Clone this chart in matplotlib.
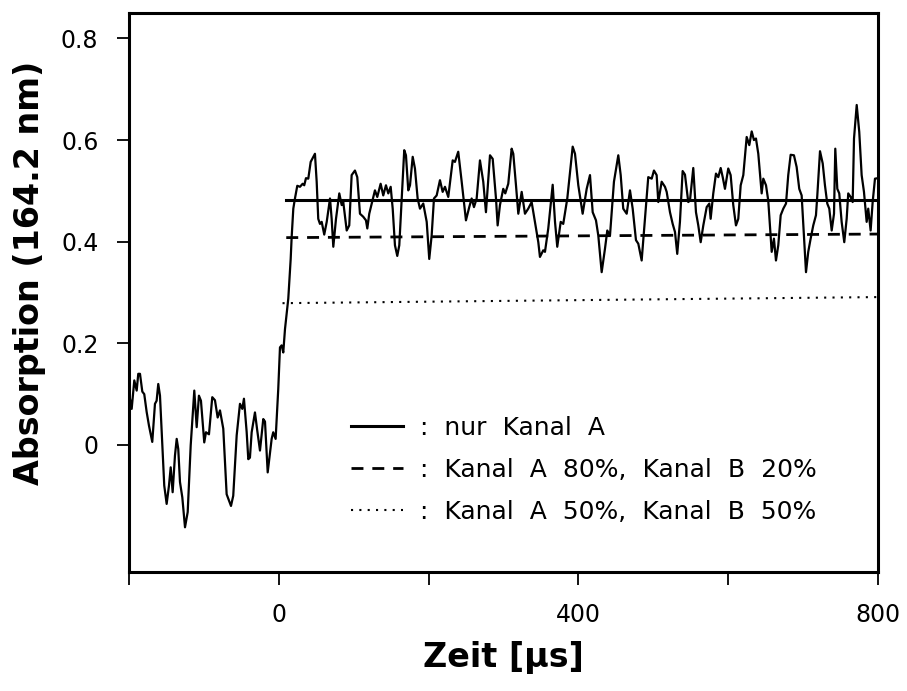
import matplotlib
matplotlib.use("Agg")
import matplotlib.pyplot as plt
from matplotlib.ticker import NullFormatter

plt.rcParams['font.family'] = ['DejaVu Sans']

# Messsignal vor dem Trigger (Zeit in µs, Absorption)
t_pre = [-199.5, -198.7, -196.4, -192.9, -189.7, -187.6, -185.3, -182.2, -179.6, -176.4,
         -173.3, -168.9, -165.3, -163.1, -160.9, -158.6, -155.5, -152.9, -149.7, -146.6,
         -144.3, -141.7, -138.6, -136.3, -134.2, -131.9, -128.8, -125.2, -121.6, -117.6,
         -112.8, -109.6, -106.6, -103.9, -99.5, -97.2, -93.2, -88.8, -85.2, -81.6,
         -78.5, -74.1, -69.6, -63.8, -60.8, -56.2, -51.8, -48.7, -46.5, -42.9,
         -40.7, -38.5, -36.2, -31.8, -28.7, -25.1, -20.7, -18.4, -14.8, -9.5,
         -7.4, -4.2, -0.7, 1.6, 3.8, 6.0, 8.3]
a_pre = [0.080, 0.091, 0.071, 0.127, 0.107, 0.140, 0.140, 0.105, 0.100, 0.065,
         0.038, 0.006, 0.081, 0.087, 0.120, 0.097, -0.001, -0.080, -0.116, -0.080,
         -0.044, -0.093, -0.021, 0.012, -0.008, -0.073, -0.103, -0.162, -0.132, -0.001,
         0.107, 0.035, 0.097, 0.087, 0.005, 0.025, 0.021, 0.094, 0.088, 0.054,
         0.068, 0.032, -0.097, -0.120, -0.100, 0.019, 0.081, 0.071, 0.091, 0.026,
         -0.028, -0.025, 0.025, 0.064, 0.028, -0.011, 0.051, 0.046, -0.054, 0.012,
         0.025, 0.012, 0.110, 0.192, 0.196, 0.182, 0.228]

# Messsignal nach dem Trigger
t_post = [12.7, 15.9, 17.2, 19.4, 21.6, 24.7, 28.3, 31.9, 34.0, 36.3, 39.4, 42.6, 48.3, 50.6,
          52.7, 55.0, 57.3, 60.7, 64.0, 68.4, 70.6, 72.8, 76.4, 80.8, 84.0, 86.1, 90.7, 94.1,
          97.3, 101.7, 104.8, 108.4, 112.8, 116.4, 118.2, 120.8, 128.4, 131.5, 136.0, 139.5,
          143.1, 146.2, 149.4, 152.1, 155.1, 158.2, 160.9, 164.1, 167.5, 169.8, 172.9, 175.2,
          178.8, 181.8, 185.4, 188.5, 192.9, 197.5, 200.9, 204.1, 207.2, 210.8, 215.2, 218.8,
          221.9, 226.3, 232.2, 235.2, 239.6, 244.2, 249.9, 254.3, 257.5, 260.6, 264.2, 268.6,
          273.0, 276.6, 282.0, 285.6, 290.0, 292.2, 295.3, 299.7, 302.4, 306.4, 310.9, 313.1,
          316.7, 319.8, 324.3, 328.7, 333.1, 337.6, 342.0, 346.5, 348.7, 353.1, 355.4, 359.8,
          365.7, 368.8, 371.8, 376.4, 379.8, 385.2, 392.4, 395.5, 399.9, 405.7, 411.1, 415.5,
          419.1, 423.5, 426.6, 431.1, 435.5, 438.6, 442.2, 447.5, 453.3, 456.5, 459.9, 464.5,
          468.9, 472.5, 476.9, 480.0, 484.5, 488.9, 493.3, 497.9, 500.9, 504.5, 506.7, 511.2,
          515.6, 517.9, 522.3, 525.9, 529.0, 532.0, 535.6, 539.2, 542.3, 546.7, 549.0, 553.4,
          557.0, 560.1, 563.3, 566.8, 571.3, 574.8, 576.6, 580.1, 583.7, 586.8, 590.0, 592.7,
          595.7, 600.1, 603.3, 606.8, 610.4, 613.5, 616.7, 620.2, 624.7, 628.2, 631.4, 634.4,
          637.1, 640.2, 644.7, 646.9, 650.5, 653.5, 658.1, 661.1, 663.8, 666.9, 670.1, 673.6,
          677.2, 680.2, 683.4, 687.8, 691.4, 694.9, 698.1, 701.2, 703.9, 706.9, 710.1, 713.6,
          717.2, 719.0, 722.6, 726.2, 729.2, 732.3, 735.0, 738.2, 741.3, 743.0, 745.7, 748.3,
          751.5, 755.0, 758.2, 760.3, 763.5, 766.2, 768.0, 771.6, 775.0, 778.2, 781.3, 784.9,
          787.0, 790.2, 792.9, 796.0, 800.0]
a_post = [0.288, 0.366, 0.409, 0.465, 0.485, 0.510, 0.508, 0.514, 0.511, 0.525, 0.524, 0.557, 0.573, 0.518,
          0.445, 0.435, 0.439, 0.414, 0.439, 0.485, 0.445, 0.390, 0.445, 0.495, 0.472, 0.478, 0.422, 0.432,
          0.531, 0.540, 0.527, 0.455, 0.449, 0.442, 0.426, 0.455, 0.501, 0.488, 0.514, 0.491,
          0.511, 0.495, 0.508, 0.465, 0.393, 0.372, 0.393, 0.485, 0.580, 0.570, 0.501, 0.511,
          0.567, 0.544, 0.485, 0.465, 0.475, 0.439, 0.366, 0.412, 0.485, 0.491, 0.521, 0.498,
          0.508, 0.488, 0.560, 0.557, 0.577, 0.518, 0.442, 0.468, 0.485, 0.468, 0.485, 0.560,
          0.518, 0.458, 0.570, 0.563, 0.485, 0.432, 0.472, 0.504, 0.495, 0.514, 0.583, 0.573,
          0.511, 0.455, 0.498, 0.455, 0.465, 0.478, 0.439, 0.399, 0.370, 0.383, 0.380, 0.426,
          0.512, 0.439, 0.390, 0.439, 0.435, 0.485, 0.587, 0.573, 0.511, 0.455, 0.504, 0.531,
          0.458, 0.442, 0.412, 0.340, 0.386, 0.422, 0.412, 0.518, 0.570, 0.531, 0.465, 0.455,
          0.501, 0.465, 0.403, 0.396, 0.363, 0.445, 0.527, 0.524, 0.540, 0.531, 0.478, 0.518,
          0.508, 0.498, 0.458, 0.435, 0.419, 0.376, 0.439, 0.539, 0.532, 0.478, 0.481, 0.545,
          0.458, 0.432, 0.399, 0.432, 0.468, 0.475, 0.445, 0.495, 0.534, 0.527, 0.545, 0.527,
          0.504, 0.544, 0.531, 0.472, 0.432, 0.445, 0.511, 0.531, 0.606, 0.590, 0.617, 0.600,
          0.603, 0.573, 0.495, 0.524, 0.511, 0.481, 0.380, 0.406, 0.363, 0.393, 0.452, 0.465,
          0.475, 0.531, 0.571, 0.570, 0.547, 0.504, 0.491, 0.412, 0.340, 0.380, 0.406, 0.432,
          0.452, 0.491, 0.578, 0.554, 0.511, 0.475, 0.465, 0.422, 0.455, 0.583, 0.504, 0.495,
          0.439, 0.399, 0.445, 0.495, 0.488, 0.478, 0.603, 0.669, 0.616, 0.531, 0.498, 0.439,
          0.465, 0.422, 0.478, 0.524, 0.525]

# Anpassungen
fit_t = [10, 800]
fit_nur_a = [0.482, 0.482]
fit_80_20 = [0.408, 0.415]
fit_50_t = [5, 800]
fit_50_50 = [0.279, 0.291]

labels = [":  nur  Kanal  A", ":  Kanal  A  80%,  Kanal  B  20%", ":  Kanal  A  50%,  Kanal  B  50%"]

fig = plt.figure(figsize=(9.07, 6.91), dpi=100)
ax = fig.add_axes([0.1422, 0.1722, 0.8258, 0.8090])

ax.plot(t_pre + t_post, a_pre + a_post, color='black', lw=1.6)
l1, = ax.plot(fit_t, fit_nur_a, color='black', lw=2.2)
l2, = ax.plot(fit_t, fit_80_20, color='black', lw=2, linestyle=(0, (4.3, 3.2)))
l3, = ax.plot(fit_50_t, fit_50_50, color='black', lw=1.5, linestyle=(0, (1, 3)))

ax.set_xlim(-200, 800)
ax.set_ylim(-0.25, 0.85)
ax.set_xticks([0, 400, 800])
ax.set_xticks([-200, 200, 600], minor=True)
ax.xaxis.set_minor_formatter(NullFormatter())
ax.set_yticks([0, 0.2, 0.4, 0.6, 0.8])
ax.set_yticklabels(['0', '0.2', '0.4', '0.6', '0.8'])

for s in ax.spines.values():
    s.set_linewidth(2.2)
ax.tick_params(which='both', direction='out', length=9, width=1.3, labelsize=17, pad=13)

ax.set_xlabel("Zeit [µs]", fontsize=24, fontweight='bold')
ax.set_ylabel("Absorption (164.2 nm)", fontsize=24, fontweight='bold')
ax.xaxis.set_label_coords(0.50, -0.123)
ax.yaxis.set_label_coords(-0.111, 0.535)

ax.legend([l1, l2, l3], labels, loc='upper left', bbox_to_anchor=(0.2964, 0.279),
          frameon=False, fontsize=18, handlelength=2.08, handletextpad=0.7,
          labelspacing=0.72, borderpad=0, borderaxespad=0)

fig.savefig("out.png", dpi=100)
